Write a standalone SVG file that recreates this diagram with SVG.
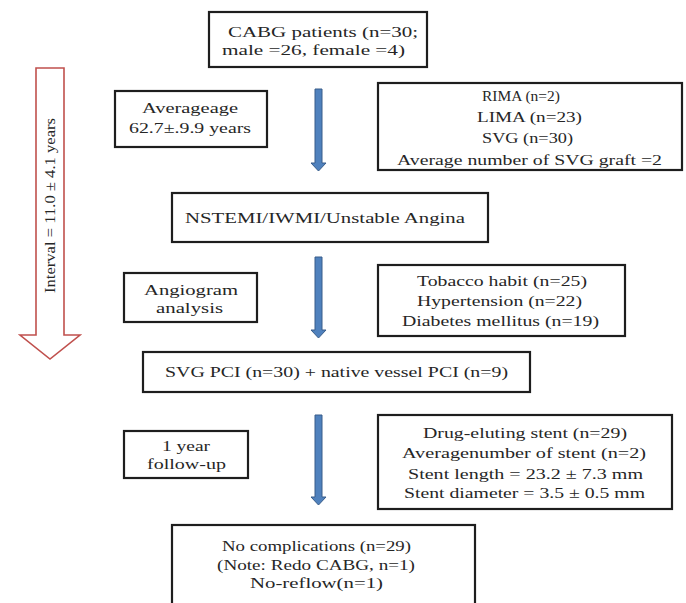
<svg xmlns="http://www.w3.org/2000/svg" width="686" height="603" viewBox="0 0 686 603">
<defs>
<style>
.box{fill:#fff;stroke:#1e1e1e;stroke-width:2.2}
.t{font-family:"Liberation Serif","Times New Roman",serif;font-size:15.5px;fill:#262626}
.blue{fill:#4f81bd;stroke:#385d8a;stroke-width:1}
.red{fill:#fff;stroke:#c0504d;stroke-width:1.6}
</style>
</defs>
<rect width="686" height="603" fill="#fff"/>
<g id="connectors">
<path class="blue" d="M315,89 H322 V163 H326 L318.5,171 L311,163 H315 Z"/>
<path class="blue" d="M315,257 H322 V330 H326 L318.5,338 L311,330 H315 Z"/>
<path class="blue" d="M315,415 H322 V497 H326 L318.5,505 L311,497 H315 Z"/>
</g>
<g id="interval">
<polygon class="red" points="36,68 64,68 64,335 80,335 50,359 20,335 36,335"/>
<text class="t" transform="translate(55,293) rotate(-90)" x="0" y="0" font-size="17" textLength="175" lengthAdjust="spacingAndGlyphs">Interval = 11.0 ± 4.1 years</text>
</g>
<g id="cabg">
<rect class="box" x="209" y="12" width="218" height="55"/>
<text class="t" x="228" y="37" textLength="190" lengthAdjust="spacingAndGlyphs">CABG patients (n=30;</text>
<text class="t" x="222" y="55" textLength="183" lengthAdjust="spacingAndGlyphs">male =26, female =4)</text>
</g>
<g id="age">
<rect class="box" x="115" y="91" width="152" height="56"/>
<text class="t" x="142" y="113" textLength="96" lengthAdjust="spacingAndGlyphs">Averageage</text>
<text class="t" x="129" y="133" textLength="122" lengthAdjust="spacingAndGlyphs">62.7±.9.9 years</text>
</g>
<g id="grafts">
<rect class="box" x="378" y="83" width="304" height="87"/>
<text class="t" x="482" y="101" textLength="78" lengthAdjust="spacingAndGlyphs">RIMA (n=2)</text>
<text class="t" x="477" y="122" textLength="105" lengthAdjust="spacingAndGlyphs">LIMA (n=23)</text>
<text class="t" x="482" y="143" textLength="91" lengthAdjust="spacingAndGlyphs">SVG (n=30)</text>
<text class="t" x="397" y="165" textLength="265" lengthAdjust="spacingAndGlyphs">Average number of SVG graft =2</text>
</g>
<g id="nstemi">
<rect class="box" x="172" y="193" width="316" height="49"/>
<text class="t" x="185" y="223" textLength="280" lengthAdjust="spacingAndGlyphs">NSTEMI/IWMI/Unstable Angina</text>
</g>
<g id="angiogram">
<rect class="box" x="124" y="273" width="133" height="49"/>
<text class="t" x="144" y="295" textLength="94" lengthAdjust="spacingAndGlyphs">Angiogram</text>
<text class="t" x="156" y="313" textLength="67" lengthAdjust="spacingAndGlyphs">analysis</text>
</g>
<g id="risk">
<rect class="box" x="378" y="265" width="247" height="71"/>
<text class="t" x="417" y="286" textLength="170" lengthAdjust="spacingAndGlyphs">Tobacco habit (n=25)</text>
<text class="t" x="417" y="306" textLength="165" lengthAdjust="spacingAndGlyphs">Hypertension (n=22)</text>
<text class="t" x="402" y="326" textLength="197" lengthAdjust="spacingAndGlyphs">Diabetes mellitus (n=19)</text>
</g>
<g id="pci">
<rect class="box" x="143" y="352" width="387" height="40"/>
<text class="t" x="165" y="377" textLength="343" lengthAdjust="spacingAndGlyphs">SVG PCI (n=30) + native vessel PCI (n=9)</text>
</g>
<g id="followup">
<rect class="box" x="124" y="431" width="124" height="47"/>
<text class="t" x="162" y="451" textLength="48" lengthAdjust="spacingAndGlyphs">1 year</text>
<text class="t" x="147" y="469" textLength="79" lengthAdjust="spacingAndGlyphs">follow-up</text>
</g>
<g id="stent">
<rect class="box" x="378" y="415" width="294" height="94"/>
<text class="t" x="423" y="438" textLength="204" lengthAdjust="spacingAndGlyphs">Drug-eluting stent (n=29)</text>
<text class="t" x="402" y="458" textLength="244" lengthAdjust="spacingAndGlyphs">Averagenumber  of stent (n=2)</text>
<text class="t" x="408" y="479" textLength="235" lengthAdjust="spacingAndGlyphs">Stent length = 23.2 ± 7.3 mm</text>
<text class="t" x="404" y="498" textLength="241" lengthAdjust="spacingAndGlyphs">Stent diameter = 3.5 ± 0.5 mm</text>
</g>
<g id="outcome">
<rect class="box" x="172" y="525" width="303" height="90"/>
<text class="t" x="222" y="551" textLength="189" lengthAdjust="spacingAndGlyphs">No complications (n=29)</text>
<text class="t" x="217" y="570" textLength="198" lengthAdjust="spacingAndGlyphs">(Note: Redo CABG, n=1)</text>
<text class="t" x="250" y="588" textLength="133" lengthAdjust="spacingAndGlyphs">No-reflow(n=1)</text>
</g>
</svg>
